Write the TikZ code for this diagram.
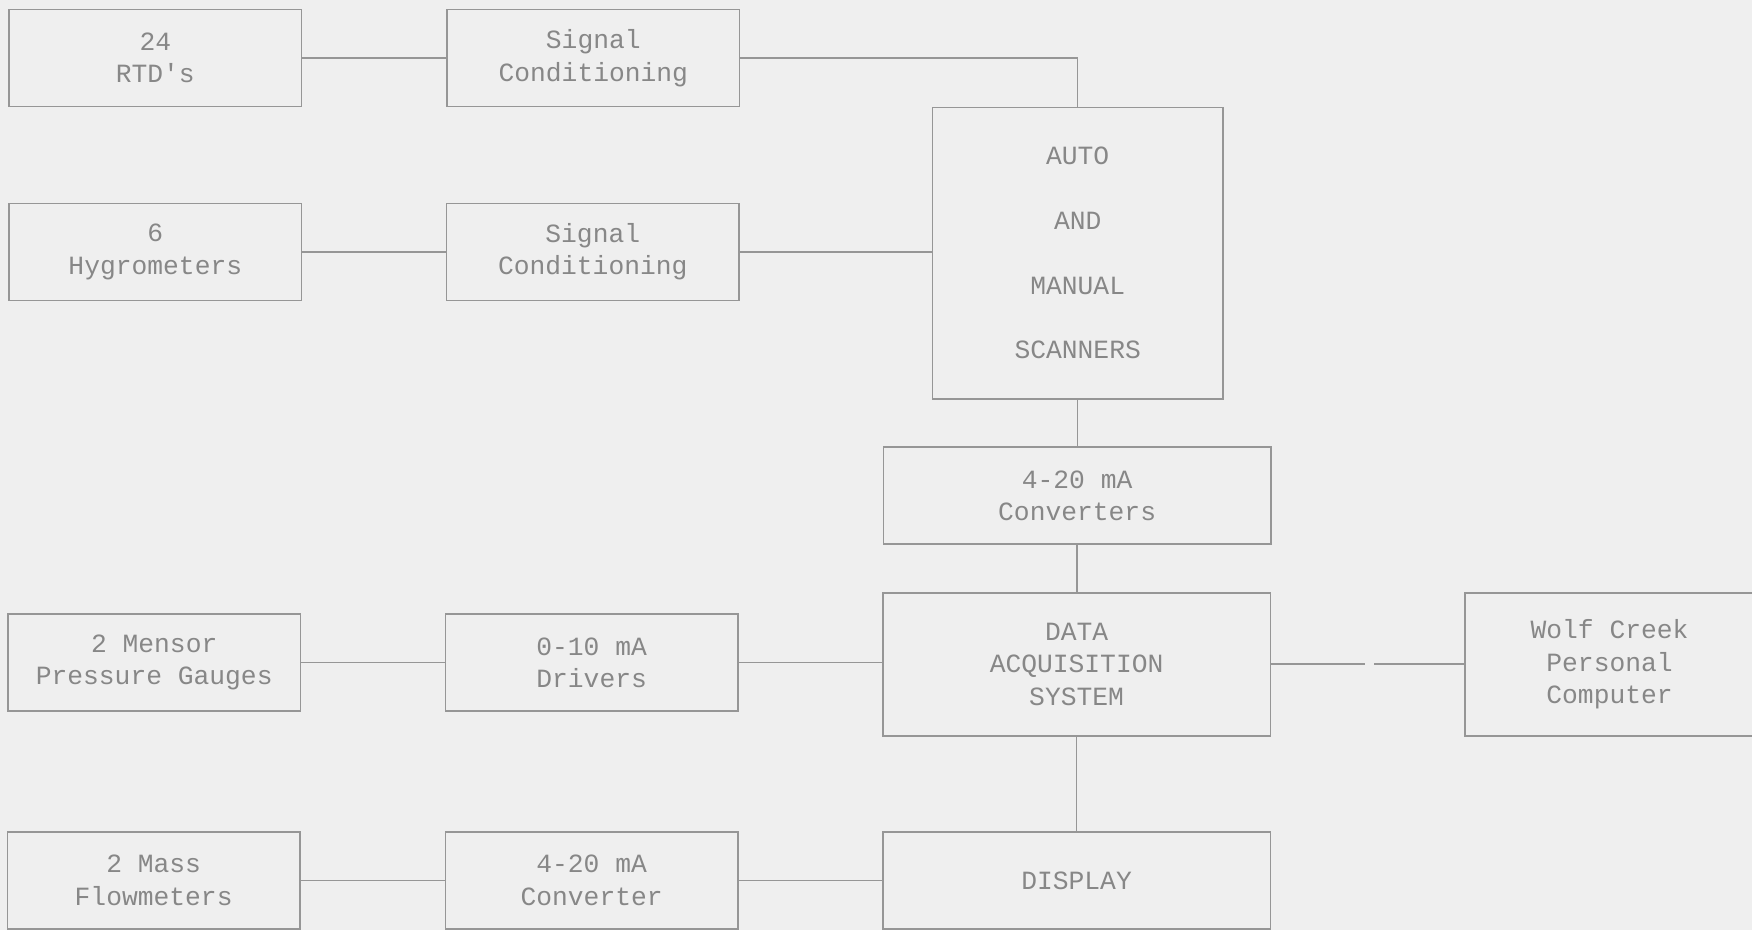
\documentclass[tikz,border=0pt]{standalone}
\usepackage{fontspec}
\setmonofont{Liberation Mono}
\usetikzlibrary{positioning}
\definecolor{paper}{RGB}{239,239,239}
\definecolor{ink}{RGB}{150,150,150}
\definecolor{txt}{RGB}{135,135,135}

\begin{document}
\begin{tikzpicture}[x=0.02cm,y=-0.02cm,
    box/.style={draw=ink, line width=0.8pt, text=txt, align=center, inner sep=0pt,
      font=\ttfamily\fontsize{13.4}{16.5}\selectfont},
    small/.style={box, minimum width=5.24cm, minimum height=1.74cm},
    wide/.style={box, minimum width=6.94cm, minimum height=1.74cm},
    link/.style={draw=ink, line width=0.8pt}]

  % Paper
  \fill[paper] (0,0) rectangle (1568,832);
  \useasboundingbox (0,0) rectangle (1568,832);

  % Sensors and conditioning
  \node[small] (rtd) at (139,52) {24\\RTD's};
  \node[small] (sc1) at (531,52) {Signal\\Conditioning};
  \node[small] (hyg) at (139,225.5) {6\\Hygrometers};
  \node[small] (sc2) at (530.5,225.5) {Signal\\Conditioning};
  \node[small] (mens) at (138,593) {2 Mensor\\Pressure Gauges};
  \node[small] (drv) at (529.5,593) {0-10 mA\\Drivers};
  \node[small] (mass) at (137.5,788) {2 Mass\\Flowmeters};
  \node[small] (conv2) at (529.5,788) {4-20 mA\\Converter};

  % Middle column
  \node[box, minimum width=5.2cm, minimum height=5.22cm] (scan) at (964.5,226.5)
    {AUTO\\[16.5pt]AND\\[16.5pt]MANUAL\\[16.5pt]SCANNERS};
  \node[wide] (conv) at (964,443.5) {4-20 mA\\Converters};
  \node[wide, minimum height=2.56cm] (das) at (963.5,594.5) {DATA\\ACQUISITION\\SYSTEM};
  \node[wide] (disp) at (963.5,788) {DISPLAY};
  \node[box, minimum width=5.18cm, minimum height=2.56cm] (pc) at (1440.5,594.5)
    {Wolf Creek\\Personal\\Computer};

  % Connections
  \draw[link] (rtd) -- (sc1);
  \draw[link] (sc1.east) -| (scan.north);
  \draw[link] (hyg) -- (sc2);
  \draw[link] (sc2.east) -- (sc2.east -| scan.west);
  \draw[link] (scan.south) -- (scan.south |- conv.north);
  \draw[link] (conv.south) -- (conv.south |- das.north);
  \draw[link] (mens) -- (drv);
  \draw[link] (drv.east) -- (drv.east -| das.west);
  \draw[link] (das.south) -- (das.south |- disp.north);
  \draw[link] (mass) -- (conv2);
  \draw[link] (conv2) -- (disp);
  \coordinate (gapl) at (1222,594.5);
  \coordinate (gapr) at (1230,594.5);
  \draw[link] (das.east) -- (gapl);
  \draw[link] (gapr) -- (pc.west);
\end{tikzpicture}
\end{document}
